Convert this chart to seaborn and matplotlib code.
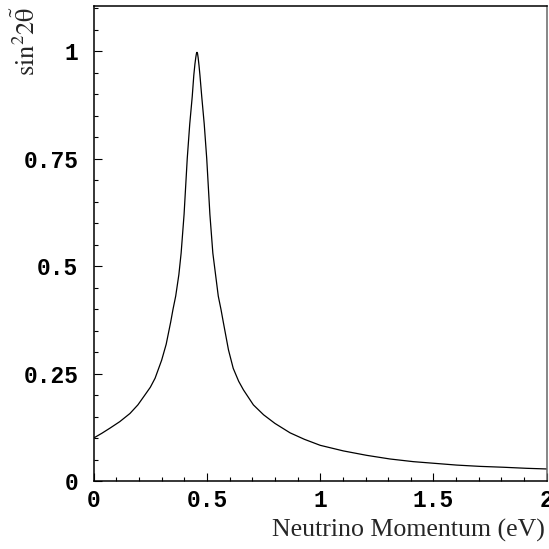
import matplotlib
matplotlib.use("Agg")
import matplotlib.pyplot as plt
from matplotlib.ticker import MultipleLocator, FixedLocator, FixedFormatter
import seaborn as sns
import pandas as pd

# Data
momentum = [0.000, 0.036, 0.072, 0.115, 0.160, 0.195, 0.226, 0.250, 0.271, 0.300,
            0.320, 0.340, 0.350, 0.362, 0.376, 0.386, 0.399, 0.413, 0.424, 0.435,
            0.442, 0.447, 0.451, 0.4535, 0.456, 0.4585, 0.461, 0.465, 0.469, 0.477,
            0.488, 0.499, 0.513, 0.526, 0.538, 0.550, 0.562, 0.572, 0.595, 0.616,
            0.640, 0.661, 0.705, 0.750, 0.800, 0.867, 0.930, 1.000, 1.102, 1.205,
            1.308, 1.411, 1.507, 1.603, 1.706, 1.808, 1.912, 2.000]
sin2theta = [0.100, 0.111, 0.123, 0.138, 0.157, 0.177, 0.200, 0.218, 0.239, 0.281,
             0.318, 0.370, 0.399, 0.430, 0.480, 0.530, 0.620, 0.750, 0.830, 0.894,
             0.944, 0.970, 0.986, 0.994, 0.997, 0.994, 0.985, 0.966, 0.944, 0.894,
             0.830, 0.750, 0.620, 0.530, 0.480, 0.430, 0.399, 0.370, 0.305, 0.262,
             0.232, 0.212, 0.177, 0.154, 0.134, 0.112, 0.097, 0.083, 0.070, 0.0597,
             0.0512, 0.045, 0.041, 0.037, 0.034, 0.032, 0.0295, 0.028]
xticks = [0, 0.5, 1, 1.5, 2]
xticklabels = ["0", "0.5", "1", "1.5", "2"]
yticks = [0, 0.25, 0.5, 0.75, 1]
yticklabels = ["0", "0.25", "0.5", "0.75", "1"]

df = pd.DataFrame({"p": momentum, "s": sin2theta})

sns.set_style("ticks")
plt.rcParams["mathtext.fontset"] = "stix"

fig = plt.figure(figsize=(5.49, 5.49), dpi=100)
ax = fig.add_axes([93.7 / 549, 68 / 549, 453 / 549, 474.7 / 549])

sns.lineplot(data=df, x="p", y="s", ax=ax, color="black", linewidth=0.9,
             sort=False, estimator=None)

ax.set_xlim(0, 2)
ax.set_ylim(0, 1.104)

ax.xaxis.set_major_locator(FixedLocator(xticks))
ax.xaxis.set_major_formatter(FixedFormatter(xticklabels))
ax.yaxis.set_major_locator(FixedLocator(yticks))
ax.yaxis.set_major_formatter(FixedFormatter(yticklabels))
ax.xaxis.set_minor_locator(MultipleLocator(0.1))
ax.yaxis.set_minor_locator(MultipleLocator(0.05))

ax.tick_params(which="both", direction="in", top=False, right=False, colors="black", width=0.8)
ax.tick_params(which="major", length=5.8)
ax.tick_params(which="minor", length=3.0)
ax.tick_params(axis="x", which="major", pad=6)
ax.tick_params(axis="y", which="major", pad=11)

for lab in ax.get_xticklabels() + ax.get_yticklabels():
    lab.set_family("Liberation Mono")
    lab.set_fontweight("bold")
    lab.set_fontsize(16.5)

for side in ["left", "bottom", "top"]:
    ax.spines[side].set_color("black")
    ax.spines[side].set_linewidth(1.1)
ax.spines["right"].set_color("#666666")
ax.spines["right"].set_linewidth(1.1)

ax.set_xlabel("")
ax.set_ylabel("")
fig.text(545 / 549, 1 - 530 / 549, "Neutrino Momentum (eV)", ha="right", va="center",
         family="Liberation Serif", fontsize=18.6)
fig.text(27 / 549, 1 - 6 / 549, r"$\mathrm{sin}^2 2\tilde{\mathrm{\theta}}$", ha="center", va="top",
         rotation=90, fontsize=19)

fig.savefig("out.png", dpi=100)
